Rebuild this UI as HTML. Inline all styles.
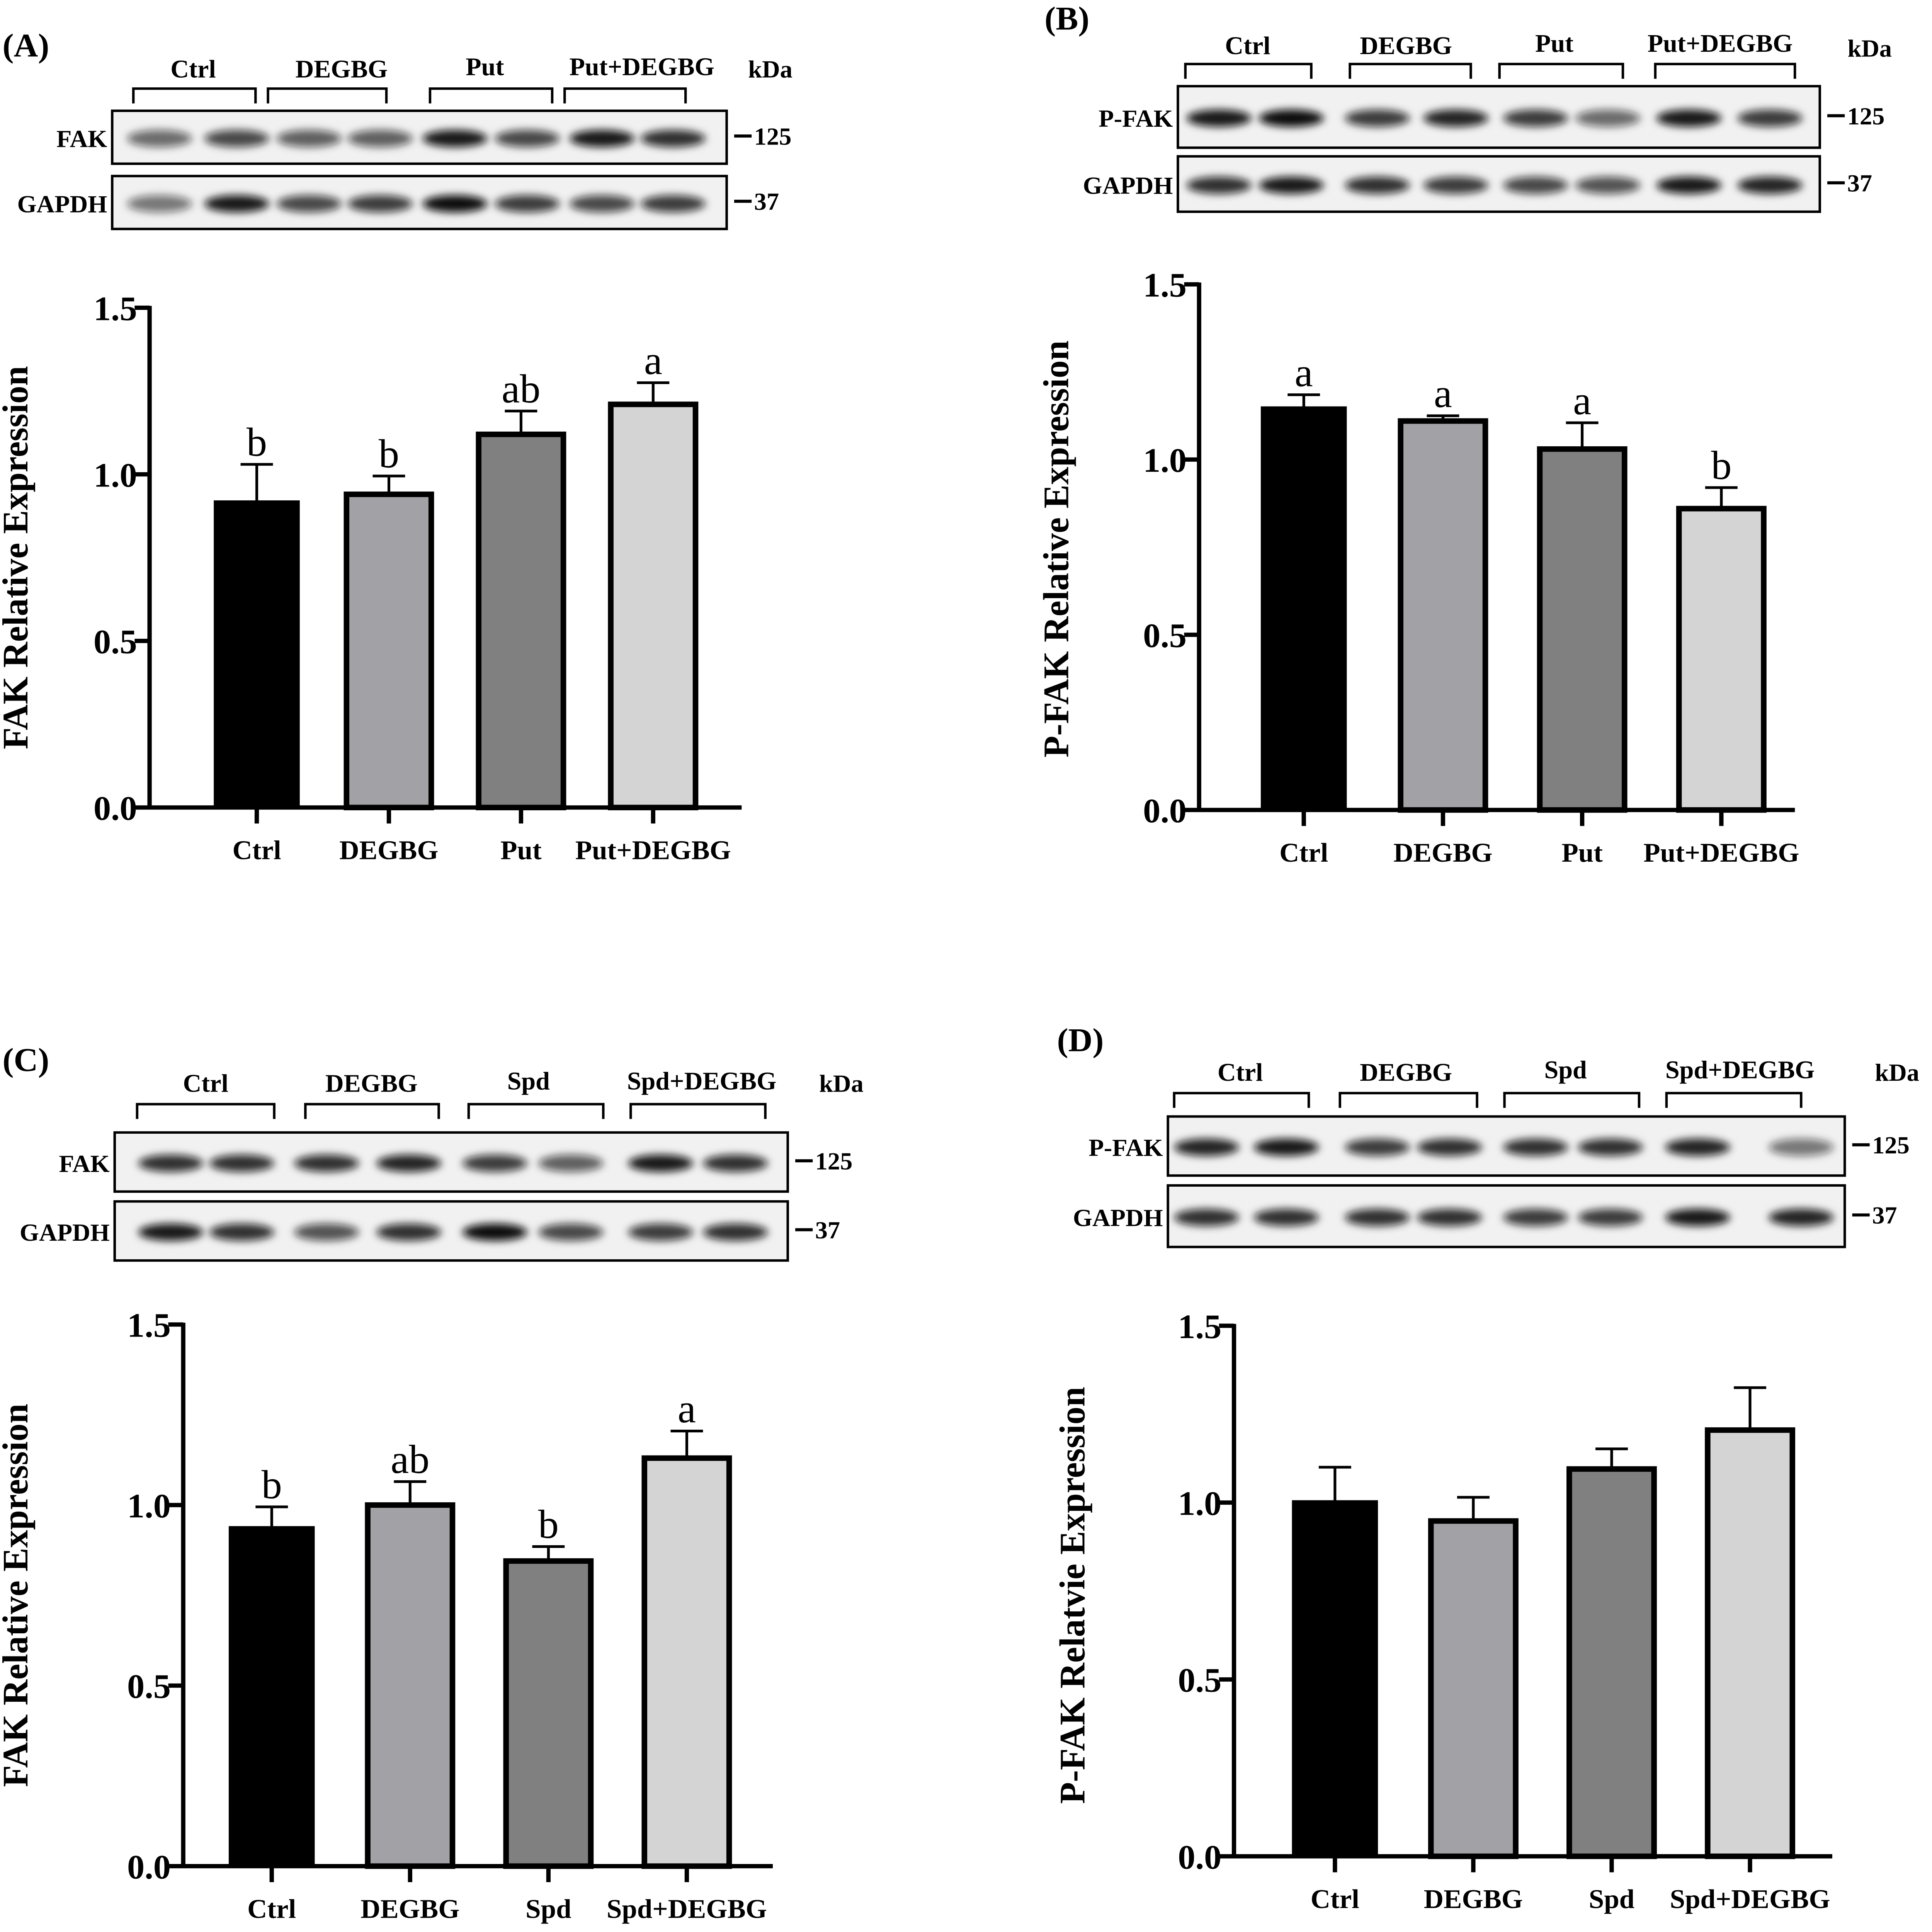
<!DOCTYPE html>
<html><head><meta charset="utf-8"><style>
html,body{margin:0;padding:0;background:#fff;overflow:hidden;width:100vw;height:100vh;}
svg{display:block;width:100vw;height:100vh;}
text{font-family:"Liberation Serif",serif;}
</style></head>
<body>
<svg id="fig" viewBox="0 0 1550 1569.5" preserveAspectRatio="none" xmlns="http://www.w3.org/2000/svg">
<defs><filter id="blur" x="-30%" y="-80%" width="160%" height="260%"><feGaussianBlur stdDeviation="3.2"/></filter></defs>
</svg>
<script>
// ===== Chart data =====
const catsA = ["Ctrl","DEGBG","Put","Put+DEGBG"];
const valsA = [0.92,0.94,1.12,1.21];
const errA  = [0.11,0.055,0.07,0.065];
const sigA  = ["b","b","ab","a"];

const catsB = ["Ctrl","DEGBG","Put","Put+DEGBG"];
const valsB = [1.15,1.11,1.03,0.86];
const errB  = [0.035,0.015,0.075,0.06];
const sigB  = ["a","a","a","b"];

const catsC = ["Ctrl","DEGBG","Spd","Spd+DEGBG"];
const valsC = [0.94,1.0,0.845,1.13];
const errC  = [0.055,0.065,0.04,0.075];
const sigC  = ["b","ab","b","a"];

const catsD = ["Ctrl","DEGBG","Spd","Spd+DEGBG"];
const valsD = [1.005,0.948,1.095,1.205];
const errD  = [0.095,0.067,0.057,0.12];
const sigD  = ["","","",""];

const yTicks = [0.0,0.5,1.0,1.5];
const yTickLabels = ["0.0","0.5","1.0","1.5"];

const fills = ["#000000","#a2a1a6","#808080","#d4d4d4"];
const NS = "http://www.w3.org/2000/svg";
const svg = document.getElementById('fig');

function mk(tag, attrs, parent){
  const e = document.createElementNS(NS, tag);
  for (const k in attrs) e.setAttribute(k, attrs[k]);
  (parent||svg).appendChild(e);
  return e;
}
function txt(str, x, y, size, weight, anchor, parent){
  const t = mk('text',{x:x,y:y,'font-size':size,'font-weight':weight,'text-anchor':anchor||'middle','fill':'#000'},parent);
  t.textContent = str;
  return t;
}

function chart(g, cfg, cats, vals, errs, sigs){
  const y = v => cfg.y0 - (v/1.5)*(cfg.y0-cfg.y15);
  const step = (cfg.ticks[3]-cfg.ticks[0])/3;
  const x = i => cfg.ticks[0] + i*step;
  const yt = txt(cfg.ytitle, cfg.ytx, cfg.yty, 29, 'bold', 'middle', g);
  yt.setAttribute('transform', `rotate(-90 ${cfg.ytx} ${cfg.yty})`);
  
  
  for (let i=0;i<vals.length;i++){
    const top = y(vals[i]), et = y(vals[i]+errs[i]);
    const eb = mk('line',{x1:x(i),x2:x(i),y1:top,y2:et,stroke:'#000','stroke-width':2.2},g);
    
    
    const cap = mk('line',{x1:x(i)-13,x2:x(i)+13,y1:et,y2:et,stroke:'#000','stroke-width':2.2},g);
    
    
    const b = mk('rect',{x:x(i)-34,y:top,width:68,height:cfg.y0-top,fill:fills[i],stroke:'#000','stroke-width':i==0?1:4.5},g);
    
    
    if (sigs[i]){
      const s = txt(sigs[i], x(i), et-7, 33, 'normal', 'middle', g);
      
      
    }
    const tk = mk('line',{x1:x(i),x2:x(i),y1:cfg.y0,y2:cfg.y0+13,stroke:'#000','stroke-width':3.5},g);
    
    
    const cl = txt(cats[i], x(i), cfg.y0+42, 22, 'bold', 'middle', g);
    
    
  }
  const ya = mk('line',{x1:cfg.ax,x2:cfg.ax,y1:cfg.y15-1.5,y2:cfg.y0+1.5,stroke:'#000','stroke-width':3.5},g);
  
  
  const xa = mk('line',{x1:cfg.ax,x2:cfg.xend,y1:cfg.y0,y2:cfg.y0,stroke:'#000','stroke-width':3.5},g);
  
  
  for (let j=0;j<yTicks.length;j++){
    const yy = y(yTicks[j]);
    const t = mk('line',{x1:cfg.ax-12,x2:cfg.ax,y1:yy,y2:yy,stroke:'#000','stroke-width':3.5},g);
    
    
    const l = txt(yTickLabels[j], cfg.ax-10, yy+10, 28, 'bold', 'end', g);
    
    
  }
}

function blot(g, cfg){
  const pl = txt(cfg.panel, cfg.px, cfg.py, 27, 'bold', 'start', g);
  
  
  for (let i=0;i<4;i++){
    const h = txt(cfg.heads[i], cfg.hx[i], cfg.hy[i], 20.5, 'bold', 'middle', g);
    
    
    const [a,b] = cfg.br[i];
    const br = mk('path',{d:`M${a} ${cfg.bry+12} V${cfg.bry} H${b} V${cfg.bry+12}`,fill:'none',stroke:'#000','stroke-width':2},g);
    
    
  }
  const kd = txt('kDa', cfg.kx, cfg.ky, 20, 'bold', 'middle', g);
  
  
  for (let r=0;r<2;r++){
    const box = cfg.boxes[r];
    const bx = mk('rect',{x:box[0],y:box[1],width:box[2]-box[0],height:box[3]-box[1],fill:'#f1f1f1',stroke:'#000','stroke-width':2},g);
    
    
    const cy = (box[1]+box[3])/2 + 1;
    for (let i=0;i<8;i++){
      const op = cfg.int[r][i];
      const bd = mk('ellipse',{cx:cfg.lanes[i],cy:cy,rx:26,ry:7,fill:'#111','fill-opacity':op,filter:'url(#blur)'},g);
      
      
    }
    const lb = txt(cfg.rowLabels[r], box[0]-4, cy+7, 20, 'bold', 'end', g);
    
    
    const mk1 = mk('line',{x1:box[2]+6,x2:box[2]+20,y1:cy-2,y2:cy-2,stroke:'#000','stroke-width':2.5},g);
    
    
    const mt = txt(cfg.kda[r], box[2]+22, cy+5, 20, 'bold', 'start', g);
    
    
  }
}

const gA = mk('g',{});


blot(gA,{panel:'(A)',px:2,py:46,heads:catsA,hx:[155,274,389,515],hy:[63,63,61,61],br:[[107,205],[215,310],[345,443],[453,550]],bry:72,kx:618,ky:63,
  boxes:[[90,90,583,133],[90,143,583,186]],rowLabels:['FAK','GAPDH'],kda:['125','37'],
  lanes:[128,190,248,305,365,423,483,540],int:[[0.6,0.75,0.65,0.65,0.95,0.75,0.95,0.85],[0.55,0.95,0.75,0.8,1,0.8,0.75,0.8]]});
chart(gA,{ax:120,y0:656,y15:250,xend:595,ticks:[206,312,420,524],ytitle:'FAK Relative Expression',ytx:22,yty:453},catsA,valsA,errA,sigA);

const gB = mk('g',{});


blot(gB,{panel:'(B)',px:838,py:24,heads:catsB,hx:[1001,1128,1247,1380],hy:[44,44,42,42],br:[[951,1052],[1083,1180],[1203,1302],[1328,1440]],bry:52,kx:1500,ky:46,
  boxes:[[945,70,1460,120],[945,127,1460,172]],rowLabels:['P-FAK','GAPDH'],kda:['125','37'],
  lanes:[978,1036,1105,1168,1232,1290,1355,1420],int:[[0.95,1,0.8,0.9,0.8,0.6,0.95,0.8],[0.85,0.95,0.85,0.8,0.75,0.7,0.95,0.9]]});
chart(gB,{ax:962,y0:658,y15:231,xend:1440,ticks:[1046,1160,1271,1381],ytitle:'P-FAK Relative Expression',ytx:857,yty:446},catsB,valsB,errB,sigB);

const gC = mk('g',{});


blot(gC,{panel:'(C)',px:2,py:870,heads:catsC,hx:[165,298,424,563],hy:[887,887,885,885],br:[[110,220],[245,352],[376,484],[506,614]],bry:897,kx:675,ky:887,
  boxes:[[92,920,632,968],[92,976,632,1024]],rowLabels:['FAK','GAPDH'],kda:['125','37'],
  lanes:[137,194,262,328,397,458,530,590],int:[[0.85,0.85,0.85,0.9,0.8,0.65,0.95,0.85],[0.95,0.85,0.7,0.85,1,0.75,0.8,0.85]]});
chart(gC,{ax:147,y0:1516,y15:1076,xend:620,ticks:[218,330,441,551],ytitle:'FAK Relative Expression',ytx:22,yty:1296},catsC,valsC,errC,sigC);

const gD = mk('g',{});


blot(gD,{panel:'(D)',px:848,py:854,heads:catsD,hx:[995,1128,1256,1396],hy:[878,878,876,876],br:[[942,1050],[1075,1185],[1207,1315],[1337,1445]],bry:888,kx:1522,ky:878,
  boxes:[[937,907,1480,955],[937,963,1480,1013]],rowLabels:['P-FAK','GAPDH'],kda:['125','37'],
  lanes:[968,1032,1105,1163,1232,1292,1362,1445],int:[[0.9,0.95,0.8,0.85,0.85,0.85,0.9,0.55],[0.85,0.85,0.85,0.85,0.8,0.8,0.95,0.9]]});
chart(gD,{ax:990,y0:1508,y15:1077,xend:1470,ticks:[1071,1181,1292,1404],ytitle:'P-FAK Relatvie Expression',ytx:870,yty:1296},catsD,valsD,errD,sigD);
</script>
</body></html>
